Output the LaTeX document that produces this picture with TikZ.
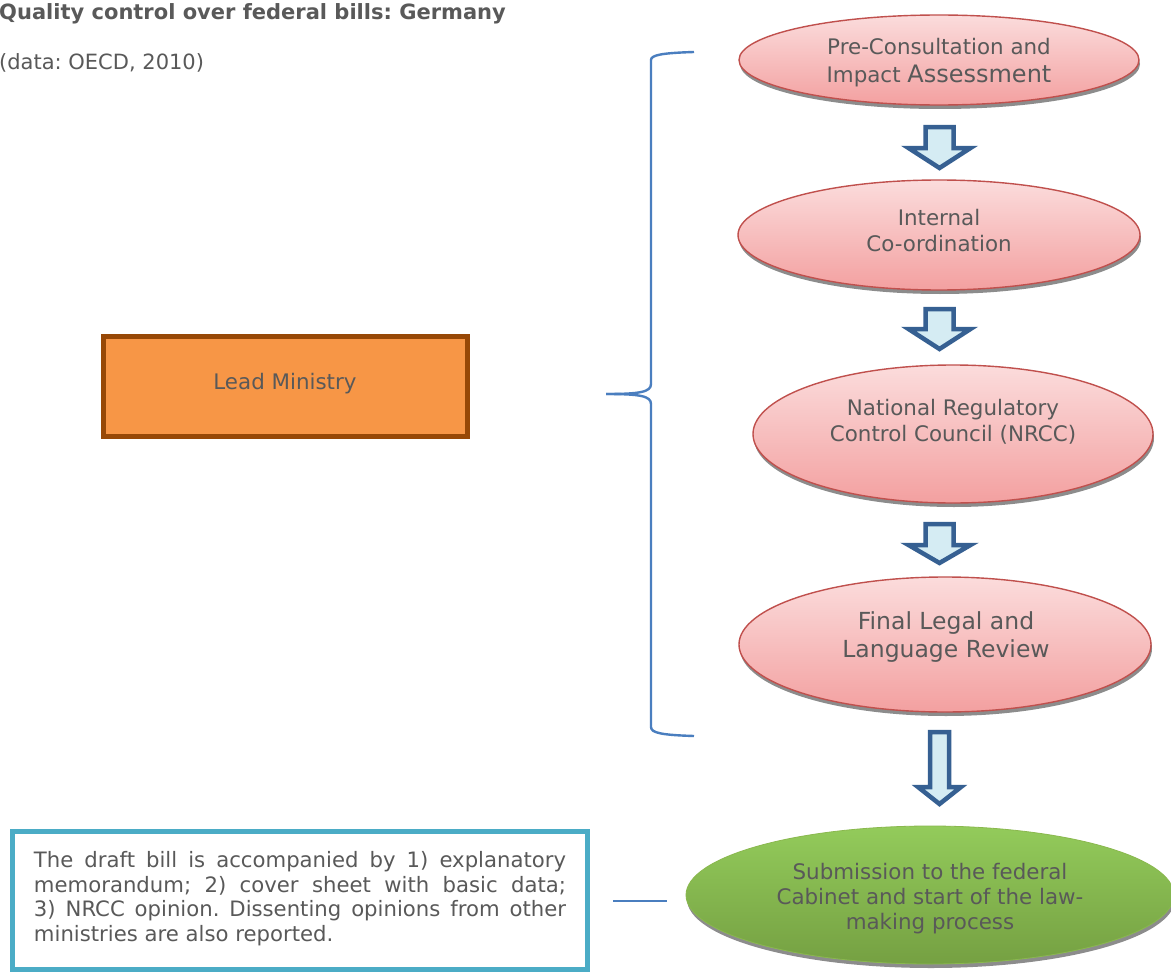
\documentclass[tikz,border=0pt]{standalone}
\usepackage{fontspec}
\setmainfont{DejaVu Sans}
\usetikzlibrary{shapes.geometric,shadows}
\frenchspacing
\definecolor{txtgray}{HTML}{595959}
\definecolor{pinkborder}{HTML}{C0504D}
\definecolor{pinktop}{HTML}{FBDCDC}
\definecolor{pinkbot}{HTML}{F3A0A0}
\definecolor{greentop}{HTML}{93CB5B}
\definecolor{greenbot}{HTML}{75A042}
\definecolor{greenborder}{HTML}{8AB84E}
\definecolor{arrowborder}{HTML}{366092}
\definecolor{arrowfill}{HTML}{D5ECF3}
\definecolor{bracecol}{HTML}{4A7EBF}
\definecolor{orangefill}{HTML}{F79646}
\definecolor{orangeborder}{HTML}{974806}
\definecolor{tealborder}{HTML}{4BACC6}
\newcommand\blkarrow[6]{%
  \draw[blockarrow] (#1-#5,#2) -- (#1+#5,#2) -- (#1+#5,#3) -- (#1+#6,#3)
    -- (#1,#4) -- (#1-#6,#3) -- (#1-#5,#3) -- cycle;}
\begin{document}
\begin{tikzpicture}[x=1pt,y=-1pt,
  txt/.style={text=txtgray, inner sep=0pt, align=center},
  pinkell/.style={ellipse, draw=pinkborder, line width=1.4pt, top color=pinktop, bottom color=pinkbot,
    inner sep=0pt, drop shadow={shadow xshift=1pt, shadow yshift=-4pt, fill=black!45, opacity=1}},
  greenell/.style={ellipse, draw=greenborder, line width=0.8pt, top color=greentop, bottom color=greenbot,
    inner sep=0pt, drop shadow={shadow xshift=1pt, shadow yshift=-4pt, fill=black!45, opacity=1}},
  blockarrow/.style={draw=arrowborder, fill=arrowfill, line width=4.5pt, line join=miter},
  bracestyle/.style={draw=bracecol, line width=2.4pt},
  leadbox/.style={draw=orangeborder, fill=orangefill, line width=5pt, inner sep=0pt},
  notebox/.style={draw=tealborder, fill=white, line width=5pt, inner sep=0pt}]
\clip (0,0) rectangle (1171,974);
\fill[white] (0,0) rectangle (1171,974);

% title
\node[txt, anchor=base west, font=\bfseries\fontsize{21}{25}\selectfont] (title) at (-1,20) {Quality control over federal bills: Germany};
\node[txt, anchor=base west, font=\fontsize{21}{25}\selectfont] (source) at (-1,70) {(data: OECD, 2010)};

% lead ministry
\node[leadbox, minimum width=364pt, minimum height=100pt] (lead) at (285.5,386.5) {};
\node[txt, font=\fontsize{21.4}{26}\selectfont] (leadt) at (285,384) {Lead Ministry};

% brace
\coordinate (btop) at (694,52);
\coordinate (bmid) at (606,394);
\coordinate (bbot) at (694,736);
\draw[bracestyle] (btop) .. controls (662,53) and (651,55) .. (651,60) -- (651,384)
   .. controls (651,392) and (640,394) .. (bmid);
\draw[bracestyle] (bmid) .. controls (640,394) and (651,396) .. (651,404) -- (651,727)
   .. controls (651,733) and (662,735) .. (bbot);

% ellipses
\node[pinkell, minimum width=400pt, minimum height=90pt] (e1) at (939,60) {};
\node[txt, font=\fontsize{21.4}{28}\selectfont] (t1) at (939,63) {Pre-Consultation and\\Impact {\fontsize{24}{28}\selectfont Assessment}};

\node[pinkell, minimum width=402pt, minimum height=110pt] (e2) at (939,235) {};
\node[txt, font=\fontsize{21.4}{26}\selectfont] (t2) at (939,231) {Internal\\Co-ordination};

\node[pinkell, minimum width=400pt, minimum height=138pt] (e3) at (953,434) {};
\node[txt, font=\fontsize{21.4}{26}\selectfont] (t3) at (953,422) {National Regulatory\\Control Council (NRCC)};

\node[pinkell, minimum width=412pt, minimum height=135pt] (e4) at (945,644.5) {};
\node[txt, font=\fontsize{23.5}{28}\selectfont] (t4) at (946,637) {Final Legal and\\Language Review};

\node[greenell, minimum width=488pt, minimum height=138pt] (e5) at (930,895) {};
\node[txt, font=\fontsize{21.4}{25}\selectfont] (t5) at (930,899) {Submission to the federal\\Cabinet and start of the law-\\making process};

% block arrows
\blkarrow{939.5}{127}{148}{168}{14}{31}
\blkarrow{939.5}{309}{329}{349}{14}{31}
\blkarrow{939.5}{524}{545}{563}{14}{31}
\blkarrow{939.5}{732}{787}{804}{9.5}{21.5}

% note box
\node[notebox, minimum width=575pt, minimum height=138pt] (note) at (300,900.5) {};
\node[txt, text width=532pt, align=justify, font=\fontsize{21.2}{24.7}\selectfont] (notet) at (300,898.5)
 {The draft bill is accompanied by 1) explanatory\linebreak memorandum; 2) cover sheet with basic data;\linebreak 3)~NRCC opinion. Dissenting opinions from other\linebreak ministries are also reported.};

% connector line
\coordinate (lnA) at (613,901);
\coordinate (lnB) at (667,901);
\draw[bracestyle, line width=1.8pt] (lnA) -- (lnB);
\end{tikzpicture}
\end{document}
